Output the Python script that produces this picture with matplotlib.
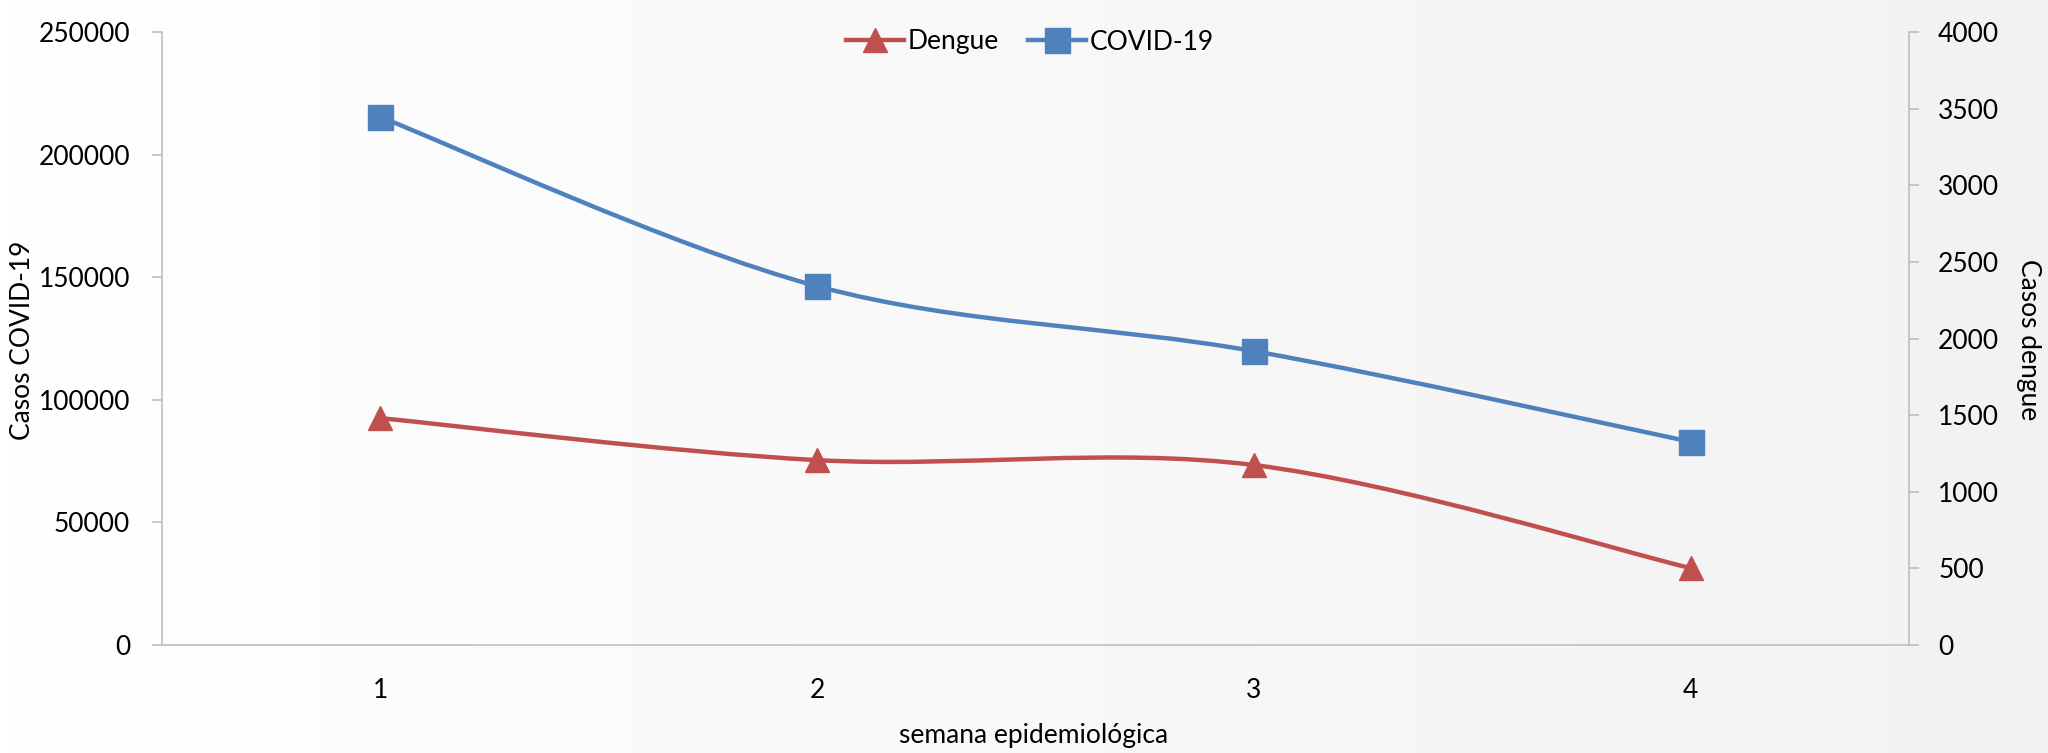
import numpy as np
import matplotlib
matplotlib.use('Agg')
import matplotlib.pyplot as plt
from matplotlib.path import Path
from matplotlib.patches import PathPatch
from matplotlib.lines import Line2D

plt.rcParams['font.family'] = ['Lato', 'DejaVu Sans']

# data
weeks = [1, 2, 3, 4]
covid_cases = [215400, 146400, 119900, 82900]
dengue_cases = [1481, 1207, 1175, 502]

BLUE = '#4f81bd'
RED = '#c0504d'
GRID = '#bfbfbf'
FS = 19


def smooth_path(xs, ys):
    """Excel-like smoothed line: cubic Bezier through the points (Catmull-Rom)."""
    pts = np.column_stack([xs, ys]).astype(float)
    n = len(pts)
    verts = [pts[0]]
    codes = [Path.MOVETO]
    for i in range(n - 1):
        p_prev = pts[max(i - 1, 0)]
        p0 = pts[i]
        p1 = pts[i + 1]
        p_next = pts[min(i + 2, n - 1)]
        c1 = p0 + (p1 - p_prev) / 6.0
        c2 = p1 - (p_next - p0) / 6.0
        verts += [c1, c2, p1]
        codes += [Path.CURVE4] * 3
    return Path(verts, codes)


fig = plt.figure(figsize=(20.48, 7.53), dpi=100)

# background gradient, white on the left to light grey on the right
bg = fig.add_axes([0, 0, 1, 1], zorder=-10)
grad = np.linspace(0, 1, 256).reshape(1, -1)
bg.imshow(grad, aspect='auto', cmap=matplotlib.colors.LinearSegmentedColormap.from_list(
    'bg', ['#ffffff', '#f2f2f2']), extent=[0, 1, 0, 1])
bg.axis('off')

ax = fig.add_axes([162 / 2048, 1 - 645 / 753, (1909 - 162) / 2048, (645 - 32.3) / 753])
ax2 = ax.twinx()
for a in (ax, ax2):
    a.patch.set_visible(False)
    for s in a.spines.values():
        s.set_visible(False)

ax.spines['left'].set_visible(True)
ax.spines['bottom'].set_visible(True)
ax2.spines['right'].set_visible(True)
for s in (ax.spines['left'], ax.spines['bottom'], ax2.spines['right']):
    s.set_color(GRID)
    s.set_linewidth(1.2)

# COVID on the left axis
ax.add_patch(PathPatch(smooth_path(weeks, covid_cases), fill=False,
                       edgecolor=BLUE, lw=3.2, capstyle='round', zorder=2))
ax.plot(weeks, covid_cases, ls='none', marker='s', ms=18, color=BLUE,
        mec=BLUE, zorder=3)

# Dengue on the right axis
ax2.add_patch(PathPatch(smooth_path(weeks, dengue_cases), fill=False,
                        edgecolor=RED, lw=3.2, capstyle='round', zorder=2))
ax2.plot(weeks, dengue_cases, ls='none', marker='^', ms=17, color=RED,
         mec=RED, zorder=3)

ax.set_xlim(0.5, 4.5)
ax.set_ylim(0, 250000)
ax2.set_ylim(0, 4000)
ax.set_yticks(np.arange(0, 250001, 50000))
ax2.set_yticks(np.arange(0, 4001, 500))
ax.set_xticks(weeks)
ax.set_yticklabels([str(v) for v in range(0, 250001, 50000)])
ax2.set_yticklabels([str(v) for v in range(0, 4001, 500)])

ax.tick_params(axis='y', direction='out', length=7, width=1.2, color=GRID,
               pad=16, labelsize=FS)
ax2.tick_params(axis='y', direction='out', length=7, width=1.2, color=GRID,
                pad=14, labelsize=FS)
ax.tick_params(axis='x', length=0, pad=24, labelsize=FS)

fig.text(23 / 2048, 1 - 340 / 753, 'Casos COVID-19', rotation=90,
         ha='center', va='center', fontsize=FS)
fig.text(2028 / 2048, 1 - 340 / 753, 'Casos dengue', rotation=270,
         ha='center', va='center', fontsize=FS)
fig.text(1034 / 2048, 1 - 735 / 753, 'semana epidemiológica',
         ha='center', va='center', fontsize=FS)

handles = [
    Line2D([], [], color=RED, lw=3.2, marker='^', ms=17, mec=RED),
    Line2D([], [], color=BLUE, lw=3.2, marker='s', ms=18, mec=BLUE),
]
fig.legend(handles, ['Dengue', 'COVID-19'], loc='center',
           bbox_to_anchor=(1030 / 2048, 1 - 42 / 753), ncol=2, frameon=False,
           fontsize=FS, handlelength=2.2, handletextpad=0.15,
           columnspacing=1.1)

fig.savefig('out.png', dpi=100)
